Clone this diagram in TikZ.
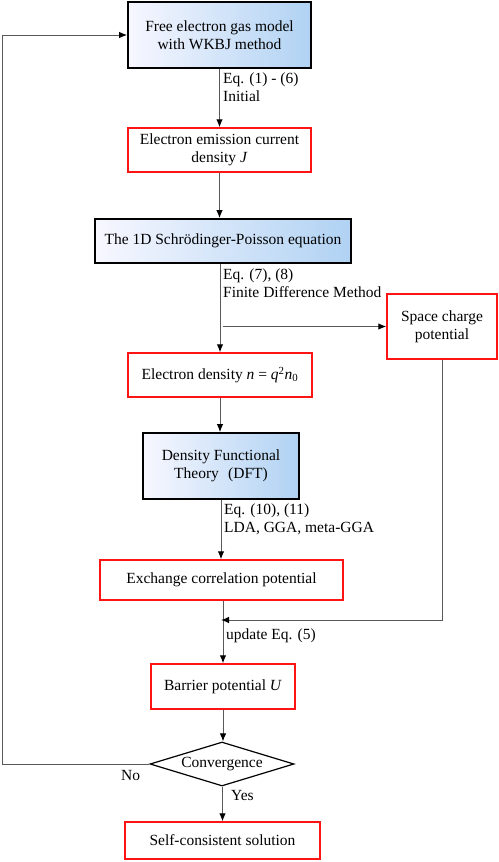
\documentclass[tikz,border=0pt]{standalone}
\usepackage{fontspec}
\setmainfont{Liberation Serif}
\usepackage{tikz}
\usetikzlibrary{shapes.geometric,arrows,arrows.meta,positioning}
\usepackage{xcolor}
\definecolor{boxblue}{RGB}{176,210,243}
\definecolor{boxred}{RGB}{255,20,20}

\begin{document}
\begin{tikzpicture} [
  x = 1pt, y = -1pt,
  every node/.style = { inner sep = 0, align = center, font = \fontsize{15.5}{18}\selectfont },
  bluebox/.style = { draw = black, line width = 1.8pt, left color = blue!3, right color = boxblue },
  redbox/.style = { draw = boxred, line width = 1.4pt, fill = white },
  decision/.style = { draw = black, line width = 1.2pt, diamond, aspect = 3.27 },
  lbl/.style = { anchor = north west, align = left },
  link/.style = { draw = black!65, line width = 1pt, -{Latex[length = 8pt, width = 6.5pt, black]} }
  ]
  \useasboundingbox (0,0) rectangle (498,862);

  \node[bluebox, minimum width = 183pt, minimum height = 66pt] (FE) at (219.5,35) {Free electron gas model\\with WKBJ method};
  \node[redbox, minimum width = 183pt, minimum height = 44pt] (EJ) at (219.5,150) {Electron emission current\\density \textit{J}};
  \node[bluebox, minimum width = 256pt, minimum height = 44pt] (SP) at (223,241) {The 1D Schr\"odinger-Poisson equation};
  \node[redbox, minimum width = 110pt, minimum height = 65pt] (SC) at (442,326.5) {Space charge\\potential};
  \node[redbox, minimum width = 184pt, minimum height = 44pt] (ED) at (220,375) {Electron density \textit{n} = \textit{q}\textsuperscript{2}\textit{n}\textsubscript{0}};
  \node[bluebox, minimum width = 156pt, minimum height = 66pt] (DF) at (221,466) {Density Functional\\Theory\hspace{0.6em}(DFT)\hspace{0.3em}};
  \node[redbox, minimum width = 243pt, minimum height = 40pt] (EX) at (221.5,580) {Exchange correlation potential};
  \node[redbox, minimum width = 144pt, minimum height = 45pt] (BP) at (223,686.5) {Barrier potential \textit{U}};
  \node[decision, minimum width = 144pt, minimum height = 44pt] (CV) at (222,764) {Convergence};
  \node[redbox, minimum width = 195pt, minimum height = 37pt] (SS) at (222.5,840.5) {Self-consistent solution};

  \coordinate (br) at (SP.south |- SC.west);
  \coordinate (mrg) at (221,620);
  \coordinate (nw) at (2.5,764);

  \draw[link] (FE.south) -- (FE.south |- EJ.north);
  \draw[link] (EJ.south) -- (EJ.south |- SP.north);
  \draw[link] (SP.south -| ED.north) -- (ED.north);
  \draw[link] (br) -- (SC.west);
  \draw[link] (ED.south) -- (ED.south |- DF.north);
  \draw[link] (DF.south) -- (DF.south |- EX.north);
  \draw[link] (EX.south -| BP.north) -- (BP.north);
  \draw[link] (SC.south) |- (mrg);
  \draw[link] (BP.south) -- (BP.south |- CV.north);
  \draw[link] (CV.south -| SS.north) -- (SS.north);
  \draw[link] (CV.west) -- (nw) |- (FE.west);

  \node[lbl] (l1) at (223,73) {Eq. (1) - (6)\\Initial};
  \node[lbl] (l2) at (223,269) {Eq. (7), (8)\\Finite Difference Method};
  \node[lbl] (l3) at (224,504) {Eq. (10), (11)\\LDA, GGA, meta-GGA};
  \node[lbl] (l4) at (226,629) {update Eq. (5)};
  \node[lbl] (no) at (121,770) {No};
  \node[lbl] (yes) at (231,790) {Yes};
\end{tikzpicture}
\end{document}
